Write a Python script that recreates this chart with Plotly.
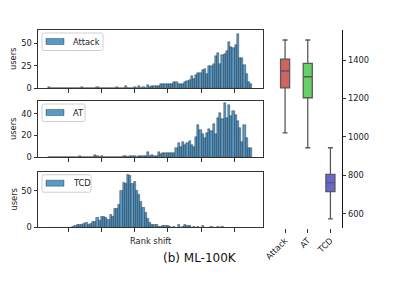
import plotly.graph_objects as go

# ---------------- data ----------------
BIN_START = -1300      # left edge of first histogram bin (rank shift)
BIN_WIDTH = 33         # histogram bin width (rank shift)
x_ticks = [-1000, -500, 0, 500, 1000, 1500]

attack_counts = [
    1, 0, 0, 0, 0, 0, 0, 0, 0, 0, 0, 0, 0, 0, 0, 1, 0, 0, 0, 0,
    0, 0, 1, 0, 0, 0, 0, 0, 0, 0, 0, 1, 0, 0, 0, 2, 0, 0, 0, 1,
    0, 2, 0, 1, 0, 3, 1, 2, 2, 2, 2, 4, 4, 4, 4, 4, 4,
    7, 7, 4, 4, 5, 7, 8, 9, 14, 10, 15, 17, 17, 20, 21, 16, 25, 25,
    27, 36, 39, 27, 37, 38, 42, 52, 46, 45, 48, 60, 34, 34, 26, 16, 7, 5,
]

at_counts = [
    0, 0, 0, 0, 0, 0, 0, 0, 0, 0, 0, 0, 0, 0, 1, 0, 0, 0, 0, 0,
    0, 2, 1, 0, 1, 0, 0, 0, 0, 0, 0, 0, 0, 0, 1, 1, 0, 1, 1, 1,
    0, 1, 1, 1, 1, 5, 1, 2, 1, 1, 5, 3, 4, 4, 4, 4, 4, 4,
    8, 13, 9, 14, 11, 13, 15, 11, 9, 19, 30, 25, 21, 18, 22, 26, 24,
    31, 21, 36, 41, 35, 50, 36, 48, 38, 43, 39, 33, 27, 14, 30, 18, 8, 8,
]

tcd_counts = [
    0, 0, 0, 0, 0, 0, 0, 0, 0, 0, 0, 1, 2, 4, 4, 4, 5, 6, 3, 5,
    8, 8, 13, 9, 14, 15, 13, 10, 17, 15, 25, 26, 31, 50, 62, 60, 73, 71, 60, 63,
    50, 45, 35, 27, 20, 12, 6, 3, 3, 3, 1, 1, 2, 2, 2, 1, 0, 1, 0, 3,
    0, 1, 3, 2, 2, 0, 1, 0, 1, 0, 2, 0, 0, 0, 1, 0, 0, 1, 0, 1,
]

series_names = ["Attack", "AT", "TCD"]

box_labels = ["Attack", "AT", "TCD"]
box_q1 = [1255, 1204, 716]
box_median = [1343, 1313, 763]
box_q3 = [1405, 1383, 806]
box_low = [1021, 944, 574]
box_high = [1504, 1504, 944]
box_colors = ["#cf655f", "#65cf69", "#6a65cf"]
box_ticks = [600, 800, 1000, 1200, 1400]

# ---------------- figure ----------------
OFF = 8                    # page body margin of the html page
W, H = 399 - OFF, 299 - OFF
FONT = "DejaVu Sans"
FS = 8.3
BAR_FILL = "rgba(31,119,180,0.75)"
BAR_EDGE = "rgba(15,15,15,0.7)"
FRAME = "#333333"


def px_x(p):
    return (p - OFF) / W


def px_y(p):
    return 1 - (p - OFF) / H


def rounded_rect(x0, y0, x1, y1, r=2.0):
    """SVG path (paper coords) of a rectangle with rounded corners, given in page px."""
    X = lambda p: f"{px_x(p):.5f}"
    Y = lambda p: f"{px_y(p):.5f}"
    return (f"M{X(x0 + r)},{Y(y0)} L{X(x1 - r)},{Y(y0)} Q{X(x1)},{Y(y0)} {X(x1)},{Y(y0 + r)} "
            f"L{X(x1)},{Y(y1 - r)} Q{X(x1)},{Y(y1)} {X(x1 - r)},{Y(y1)} "
            f"L{X(x0 + r)},{Y(y1)} Q{X(x0)},{Y(y1)} {X(x0)},{Y(y1 - r)} "
            f"L{X(x0)},{Y(y0 + r)} Q{X(x0)},{Y(y0)} {X(x0 + r)},{Y(y0)} Z")


fig = go.Figure()


def add_hist(counts, name, xa, ya):
    xs = [BIN_START + BIN_WIDTH * (i + 0.5) for i in range(len(counts))]
    fig.add_trace(go.Bar(
        x=xs, y=counts, width=BIN_WIDTH, name=name,
        xaxis=xa, yaxis=ya, showlegend=False,
        marker=dict(color=BAR_FILL, line=dict(color=BAR_EDGE, width=0.5)),
    ))


add_hist(attack_counts, series_names[0], "x", "y")
add_hist(at_counts, series_names[1], "x2", "y2")
add_hist(tcd_counts, series_names[2], "x3", "y3")

for i, lab in enumerate(box_labels):
    fig.add_trace(go.Box(
        x=[lab], q1=[box_q1[i]], median=[box_median[i]], q3=[box_q3[i]],
        lowerfence=[box_low[i]], upperfence=[box_high[i]],
        xaxis="x4", yaxis="y4", fillcolor=box_colors[i],
        line=dict(color="#5a5a5a", width=1.3), width=0.4, whiskerwidth=0.55,
        boxpoints=False, showlegend=False, hoverinfo="skip",
    ))

hist_xdom = [px_x(38), px_x(263)]
hist_xrange = [-1451, 1932]
panels = [
    ("", (30, 88), [0, 65], [0, 25, 50], 103),
    ("2", (101, 157), [0, 52], [0, 20, 40], 85),
    ("3", (171.7, 227.3), [0, 76.5], [0, 50], 91),
]

axis_common = dict(showgrid=False, zeroline=False, showline=True, mirror=True,
                   linecolor=FRAME, linewidth=1, ticks="outside", ticklen=3.5,
                   tickcolor=FRAME, tickwidth=1, automargin=False,
                   tickfont=dict(family=FONT, size=FS, color="#222"))

layout = dict(
    width=W, height=H, margin=dict(l=0, r=0, t=0, b=0, autoexpand=False),
    paper_bgcolor="white", plot_bgcolor="white", template="none",
    bargap=0, boxmode="overlay", showlegend=False,
    font=dict(family=FONT, size=FS, color="#222"),
)

for suf, (top, bot), yr, yt, _ in panels:
    layout["xaxis" + suf] = dict(axis_common, domain=hist_xdom, range=hist_xrange,
                                 anchor="y" + suf, tickvals=x_ticks, showticklabels=False)
    layout["yaxis" + suf] = dict(axis_common, domain=[px_y(bot), px_y(top)], range=yr,
                                 anchor="x" + suf, tickvals=yt)

layout["xaxis4"] = dict(domain=[px_x(273.75), px_x(341.75)], anchor="y4", type="category",
                        categoryorder="array", categoryarray=box_labels, range=[-0.5, 2.5],
                        showgrid=False, zeroline=False, showline=False, ticks="outside",
                        ticklen=3.5, tickcolor=FRAME, tickangle=-45, automargin=False,
                        tickfont=dict(family=FONT, size=FS, color="#222"))
layout["yaxis4"] = dict(domain=[px_y(228), px_y(30)], anchor="x4", side="right",
                        range=[527, 1556], tickvals=box_ticks, showgrid=False, zeroline=False,
                        showline=True, linecolor="#111", linewidth=1, ticks="outside",
                        ticklen=3.5, tickcolor=FRAME, automargin=False,
                        tickfont=dict(family=FONT, size=FS, color="#222"))

fig.update_layout(**layout)

# legends (frame, colour patch, label) in the top-left corner of each panel
for (suf, (top, bot), yr, yt, right), name in zip(panels, series_names):
    fig.add_shape(type="path", xref="paper", yref="paper",
                  path=rounded_rect(42, top + 3, right, top + 20.5),
                  line=dict(color="#d0d0d0", width=1), fillcolor="rgba(255,255,255,0.85)")
    fig.add_shape(type="rect", xref="paper", yref="paper",
                  x0=px_x(46), x1=px_x(64), y0=px_y(top + 14.5), y1=px_y(top + 8.5),
                  line=dict(color=BAR_EDGE, width=0.5), fillcolor=BAR_FILL)
    fig.add_annotation(text=name, x=px_x(71), y=px_y(top + 11.7), xref="paper", yref="paper",
                       xanchor="left", yanchor="middle", showarrow=False,
                       font=dict(family=FONT, size=FS, color="#222"))
    fig.add_annotation(text="users", x=px_x(13), y=px_y((top + bot) / 2), xref="paper",
                       yref="paper", showarrow=False, textangle=-90,
                       xanchor="center", yanchor="middle",
                       font=dict(family=FONT, size=FS, color="#222"))

fig.add_annotation(text="Rank shift", x=px_x(151), y=px_y(241), xref="paper", yref="paper",
                   showarrow=False, xanchor="center", yanchor="middle",
                   font=dict(family=FONT, size=FS, color="#222"))
fig.add_annotation(text="(b) ML-100K", x=px_x(200), y=px_y(258), xref="paper", yref="paper",
                   showarrow=False, xanchor="center", yanchor="middle",
                   font=dict(family=FONT, size=12, color="#111"))

fig.write_html("out.html")
